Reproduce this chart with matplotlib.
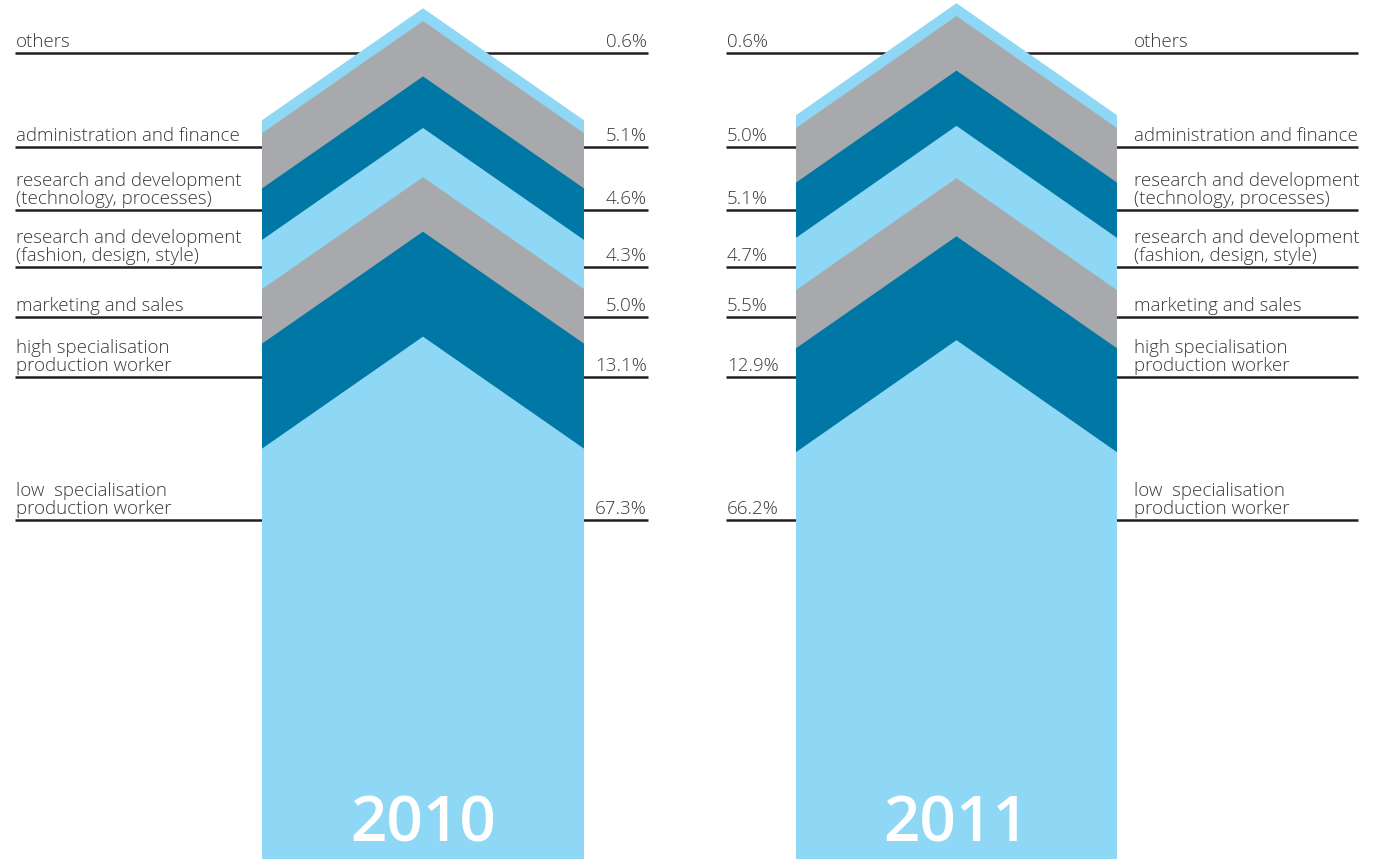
import matplotlib
matplotlib.use("Agg")
import numpy as np
import matplotlib.pyplot as plt
from matplotlib.patches import Rectangle

# ── data ───────────────────────────────────────────────────────────────────
years = ["2010", "2011"]
categories = [
    "low  specialisation\nproduction worker",
    "high specialisation\nproduction worker",
    "marketing and sales",
    "research and development\n(fashion, design, style)",
    "research and development\n(technology, processes)",
    "administration and finance",
    "others",
]
share_2010 = [67.3, 13.1, 5.0, 4.3, 4.6, 5.1, 0.6]
share_2011 = [66.2, 12.9, 5.5, 4.7, 5.1, 5.0, 0.6]

# ── palette ────────────────────────────────────────────────────────────────
LIGHT = "#8ED8F6"
DARK  = "#0077A4"
GREY  = "#A7A9AC"
INK   = "#231F20"
TXT   = "#3A3A39"
BAND_COLORS = [LIGHT, DARK, GREY, LIGHT, DARK, GREY, LIGHT]

# ── layout (figure pixels, y measured upward) ──────────────────────────────
W, H = 1381, 859
BASE = 91            # where the stacked column starts
RISE = 112           # height of the chevron point
SCALE, GAMMA = 18.25, 0.68   # power scale for band thickness
COLS = [(262, 584), (796, 1117)]
LINE_Y = [H - y for y in (520, 377, 317, 267, 210, 147, 53)]
FONT = "Open Sans"


def band_height(v):
    return SCALE * np.asarray(v) ** GAMMA


def arrow_block(ax, x0, x1, top, color, z):
    """Column from BASE up to `top` (edge height), capped by a chevron."""
    xc = (x0 + x1) / 2
    xs = [x0, x0, xc, x1, x1]
    ys = [BASE, top, top + RISE, top, BASE]
    ax.fill(xs, ys, color=color, lw=0, zorder=z)


fig = plt.figure(figsize=(W / 100, H / 100), dpi=100, facecolor="white")
ax = fig.add_axes([0, 0, 1, 1])
ax.set_xlim(0, W)
ax.set_ylim(0, H)
ax.axis("off")

for year, shares, (x0, x1) in zip(years, [share_2010, share_2011], COLS):
    tops = BASE + np.cumsum(band_height(shares))
    # paint from the outermost band inwards so each band hides the next
    for i in range(len(shares) - 1, -1, -1):
        arrow_block(ax, x0, x1, tops[i], BAND_COLORS[i], 3 + (len(shares) - i) * 0.01)
    # year block under the column
    ax.add_patch(Rectangle((x0, 0), x1 - x0, BASE + 1, facecolor=LIGHT,
                           edgecolor="none", zorder=3))
    ax.text((x0 + x1) / 2, 17, year, ha="center", va="baseline",
            fontsize=46, color="white", fontfamily=FONT,
            fontweight="semibold", zorder=5)

# ── label rules and texts ──────────────────────────────────────────────────
tkw = dict(fontsize=13.5, color=TXT, fontfamily=FONT, fontweight="light",
           va="baseline", linespacing=1.0)
for ly, cat, v10, v11 in zip(LINE_Y, categories, share_2010, share_2011):
    ax.plot([15, 648], [ly, ly], color=INK, lw=1.8, zorder=1,
            solid_capstyle="butt")
    ax.plot([726, 1358], [ly, ly], color=INK, lw=1.8, zorder=1,
            solid_capstyle="butt")
    ax.text(16, ly + 6, cat, ha="left", **tkw)
    ax.text(1134, ly + 6, cat, ha="left", **tkw)
    ax.text(647, ly + 6, f"{v10:.1f}%", ha="right", **tkw)
    ax.text(727, ly + 6, f"{v11:.1f}%", ha="left", **tkw)

fig.savefig("out.png", dpi=100, facecolor="white")
plt.close(fig)
